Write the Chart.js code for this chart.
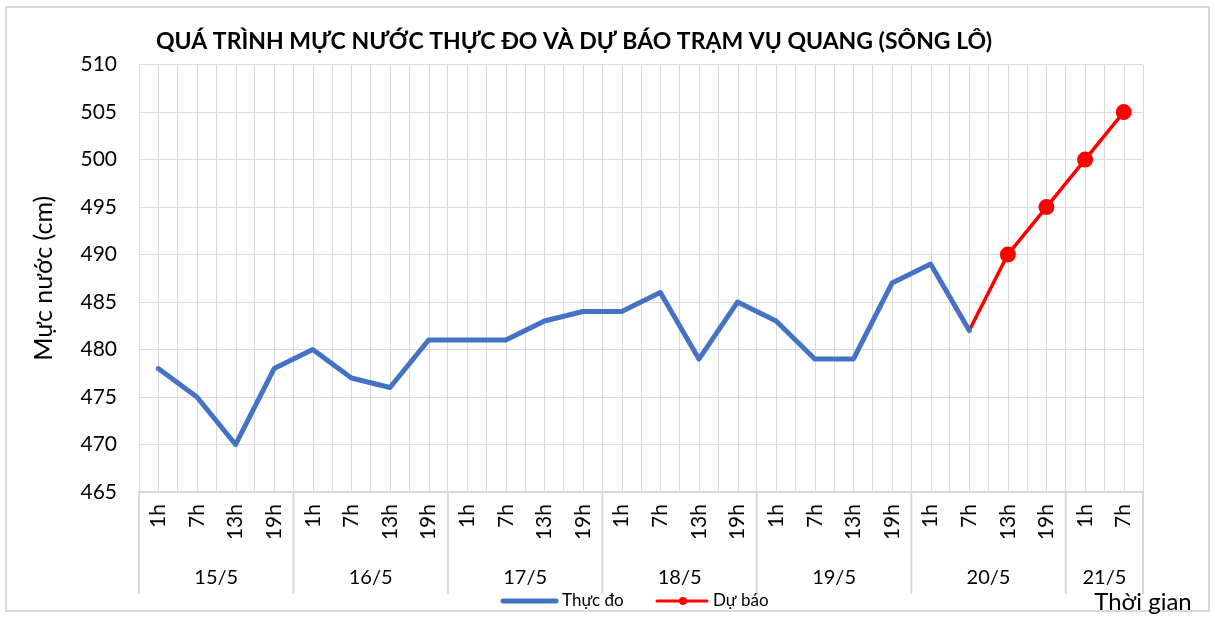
<!DOCTYPE html>
<html>
<head>
<meta charset="utf-8">
<script src="https://cdn.jsdelivr.net/npm/chart.js@4.4.0/dist/chart.umd.min.js"></script>
<style>
  html, body { margin: 0; padding: 0; background: #fff; }
</style>
</head>
<body>
<canvas id="chartMucNuoc" width="1215" height="618"></canvas>
<script>
// Mốc giờ trên trục hoành
const gio = ['1h', '7h', '13h', '19h', '1h', '7h', '13h', '19h', '1h', '7h', '13h', '19h',
             '1h', '7h', '13h', '19h', '1h', '7h', '13h', '19h', '1h', '7h', '13h', '19h',
             '1h', '7h'];
// Ngày và số mốc giờ của mỗi ngày
const ngay = ['15/5', '16/5', '17/5', '18/5', '19/5', '20/5', '21/5'];
const soMoc = [4, 4, 4, 4, 4, 4, 2];
// Mực nước thực đo (cm)
const thucDo = [478, 475, 470, 478, 480, 477, 476, 481, 481, 481, 483, 484,
                484, 486, 479, 485, 483, 479, 479, 487, 489, 482,
                null, null, null, null];
// Mực nước dự báo (cm)
const duBao = [null, null, null, null, null, null, null, null, null, null, null, null,
               null, null, null, null, null, null, null, null, null, 482,
               490, 495, 500, 505];
const banKinhDuBao = duBao.map((v, i) => (v !== null && i > 21 ? 8 : 0));
const yTicks = [465, 470, 475, 480, 485, 490, 495, 500, 505, 510];

const FONT = 'Lato, "Open Sans", sans-serif';
const XAM = '#d9d9d9';

// Vẽ khung, lưới phụ, nhãn ngày, chú giải
const pluginKhung = {
    id: 'khung',
    beforeDraw(chart) {
        const ctx = chart.ctx;
        ctx.save();
        ctx.fillStyle = '#fff';
        ctx.fillRect(0, 0, chart.width, chart.height);
        ctx.strokeStyle = XAM;
        ctx.lineWidth = 2;
        ctx.strokeRect(6, 7, 1203, 604);
        ctx.restore();
    },
    beforeDatasetsDraw(chart) {
        const ctx = chart.ctx;
        const x = chart.scales.x;
        const a = chart.chartArea;
        ctx.save();
        ctx.strokeStyle = XAM;
        ctx.lineWidth = 1;
        for (let i = 0; i < gio.length; i++) {
            const px = Math.round(x.getPixelForValue(i)) + 0.5;
            ctx.beginPath();
            ctx.moveTo(px, a.top);
            ctx.lineTo(px, a.bottom);
            ctx.stroke();
        }
        ctx.restore();
    },
    afterDraw(chart) {
        const ctx = chart.ctx;
        const x = chart.scales.x;
        const a = chart.chartArea;
        const nua = (x.getPixelForValue(1) - x.getPixelForValue(0)) / 2;
        ctx.save();
        ctx.strokeStyle = XAM;
        ctx.lineWidth = 2;
        ctx.fillStyle = '#000';
        ctx.font = '20px ' + FONT;
        ctx.textAlign = 'center';
        ctx.textBaseline = 'middle';
        let dau = 0;
        for (let k = 0; k < ngay.length; k++) {
            const trai = x.getPixelForValue(dau) - nua;
            const phai = x.getPixelForValue(dau + soMoc[k] - 1) + nua;
            ctx.beginPath();
            ctx.moveTo(trai, a.bottom);
            ctx.lineTo(trai, 594);
            ctx.stroke();
            if (k === ngay.length - 1) {
                ctx.beginPath();
                ctx.moveTo(phai, a.bottom);
                ctx.lineTo(phai, 594);
                ctx.stroke();
            }
            ctx.fillText(ngay[k], (trai + phai) / 2, 578);
            dau += soMoc[k];
        }
        ctx.font = '24px ' + FONT;
        ctx.fillText('Thời gian', 1143, 602);

        // chú giải
        ctx.font = '17px ' + FONT;
        ctx.textAlign = 'left';
        ctx.lineCap = 'round';
        ctx.strokeStyle = '#4472c4';
        ctx.lineWidth = 5;
        ctx.beginPath();
        ctx.moveTo(503, 601);
        ctx.lineTo(556, 601);
        ctx.stroke();
        ctx.fillText('Thực đo', 562, 601);
        ctx.strokeStyle = '#ff0000';
        ctx.lineWidth = 3;
        ctx.beginPath();
        ctx.moveTo(657, 601);
        ctx.lineTo(707, 601);
        ctx.stroke();
        ctx.fillStyle = '#ff0000';
        ctx.beginPath();
        ctx.arc(683, 601, 4, 0, Math.PI * 2);
        ctx.fill();
        ctx.fillStyle = '#000';
        ctx.fillText('Dự báo', 713, 601);
        ctx.restore();
    }
};

new Chart(document.getElementById('chartMucNuoc'), {
    type: 'line',
    data: {
        labels: gio,
        datasets: [{
            label: 'Thực đo',
            data: thucDo,
            borderColor: '#4472c4',
            backgroundColor: '#4472c4',
            borderWidth: 5,
            pointRadius: 0,
            tension: 0,
            borderJoinStyle: 'round',
            borderCapStyle: 'round'
        }, {
            label: 'Dự báo',
            data: duBao,
            borderColor: '#ff0000',
            backgroundColor: '#ff0000',
            borderWidth: 3.5,
            pointRadius: banKinhDuBao,
            pointBorderWidth: 0,
            tension: 0
        }]
    },
    options: {
        responsive: false,
        animation: false,
        layout: { padding: { left: 5, right: 72, top: 20, bottom: 0 } },
        scales: {
            x: {
                offset: true,
                grid: { offset: true, color: XAM, lineWidth: 1, drawTicks: false },
                border: { color: XAM, width: 2 },
                ticks: {
                    color: '#000',
                    font: { family: FONT, size: 21 },
                    minRotation: 90,
                    maxRotation: 90,
                    autoSkip: false,
                    padding: 12
                },
                afterFit(scale) { scale.height = 126; }
            },
            y: {
                min: 465,
                max: 510,
                afterBuildTicks(scale) { scale.ticks = yTicks.map(v => ({ value: v })); },
                grid: { color: XAM, lineWidth: 1, drawTicks: false },
                border: { color: XAM, width: 1 },
                ticks: {
                    color: '#000',
                    font: { family: FONT, size: 21 },
                    padding: 22
                },
                title: {
                    display: true,
                    text: 'Mực nước (cm)',
                    color: '#000',
                    font: { family: FONT, size: 25 },
                    padding: { top: 24, bottom: 0 }
                },
                afterFit(scale) { scale.width = 134; }
            }
        },
        plugins: {
            legend: { display: false },
            tooltip: { enabled: false },
            title: {
                display: true,
                text: 'QUÁ TRÌNH MỰC NƯỚC THỰC ĐO VÀ DỰ BÁO TRẠM VỤ QUANG (SÔNG LÔ)',
                color: '#000',
                font: { family: FONT, size: 23, weight: 'bold' },
                padding: { top: 8, bottom: 9 }
            }
        }
    },
    plugins: [pluginKhung]
});
</script>
</body>
</html>
